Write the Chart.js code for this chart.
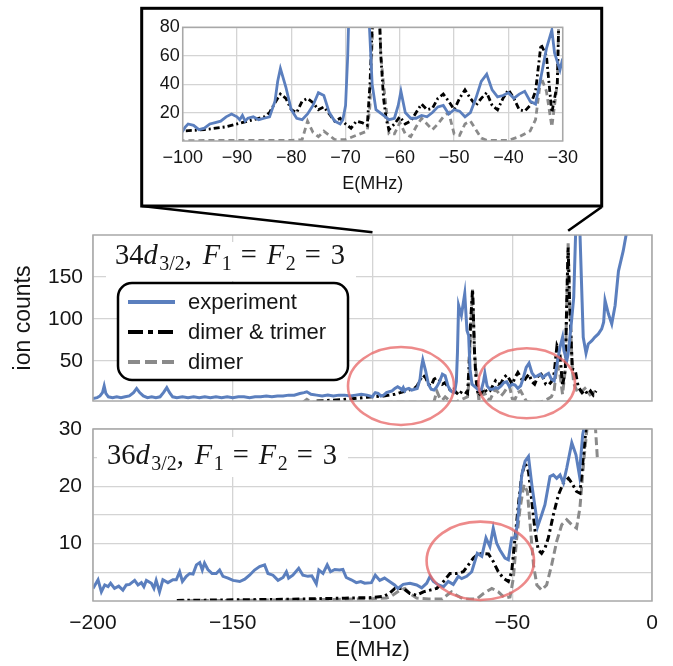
<!DOCTYPE html>
<html>
<head>
<meta charset="utf-8">
<script src="https://cdn.jsdelivr.net/npm/chart.js@4.4.0/dist/chart.umd.min.js"></script>
<style>
  body { margin: 0; background: #fff; }
  #page { position: relative; width: 673px; height: 666px; overflow: hidden; background: #fff; }
  .box { position: absolute; }
  #overlay { position: absolute; left: 0; top: 0; pointer-events: none; }
</style>
</head>
<body>
<div id="page">
  <div class="box" style="left:0;top:225px;width:673px;height:185px"><canvas id="mid"></canvas></div>
  <div class="box" style="left:0;top:419px;width:673px;height:247px"><canvas id="bot"></canvas></div>
  <div class="box" style="left:142px;top:8px;width:460px;height:198px"><canvas id="inset"></canvas></div>
  <canvas id="overlay" width="673" height="666"></canvas>
</div>
<script>
// tick positions
const xTicksMain = [-200, -150, -100, -50, 0];
const xTicksInset = [-100, -90, -80, -70, -60, -50, -40, -30];
const yTicks34 = [50, 100, 150];
const yTicks36 = [5, 10, 15, 20, 25, 30];
const yTicksInset = [20, 40, 60, 80];

// 34d_{3/2} : [E (MHz), ion counts]
const exp34 = [[-200,5],[-198.5,6],[-197.5,8],[-196.6,12],[-196,20],[-195.4,11],[-194.5,7],[-193,6],[-191.5,7],[-190,6],
  [-188.5,7],[-187,8],[-185.5,12],[-184.4,17],[-183.3,12],[-182,8],[-180.5,6],[-179,7],[-177.5,6],[-176,7],
  [-174.8,12],[-173.6,18],[-172.6,12],[-171.5,7],[-170,6],[-168,7],[-166,6],[-164,7],[-162,6],[-160,7],
  [-158,6],[-156,7],[-154,6],[-152,7],[-150,6],[-148,7],[-146,7],[-144,6],[-142,7],[-140,7],[-138,8],[-136,7],
  [-134,8],[-132,8],[-130,9],[-128,9],[-126,11],[-124.5,12],[-123.5,13],[-122,10],[-120,9],[-118,8],[-116,9],
  [-114,8],[-112,9],[-110,9],[-108,8],[-106,9],[-104,10],[-102,9],
  [-100,7],[-99.5,10],[-99,12],[-98,11],[-97,8],[-96,9],[-95,12],[-94,13],[-93,14],[-92,17],[-91,19],[-90,17],
  [-89.5,15],[-89,18],[-88.5,14],[-88,16],[-87,17],[-86,15],[-85,16],[-84,17],[-83,28],[-82.5,42],[-82,51],
  [-81,38],[-80,22],[-79,16],[-78,15],[-77,19],[-76,25],[-75,34],[-74,32],[-73,20],[-72,14],[-71,12],
  [-70.5,15],[-70,25],[-69.6,60],[-69.2,116],[-68.2,104],[-67,130],[-66.2,86],[-65.6,80],[-65.1,40],[-64.4,22],
  [-63,18],[-62,15],[-61,16],[-60.3,25],[-59.8,35],[-59,20],[-58,16],[-57,16],[-56,18],[-55,17],[-54,20],
  [-53,24],[-52,25],[-51,19],[-50,22],[-49,21],[-48,17],[-47,20],[-46,30],[-45,42],[-44,47],[-43,36],[-42,31],
  [-41,32],[-40,34],[-39,30],[-38,33],[-37,35],[-36,28],[-35,26],[-34,45],[-33,65],[-32,78],[-31.5,62],
  [-30.5,50],[-30,58],[-29,90],[-28,126],[-27.3,205],[-25.8,205],[-25,120],[-24.6,78],[-23.6,59],[-22.8,70],
  [-21.5,74],[-20.5,78],[-19.2,82],[-18,88],[-17.3,96],[-16.8,122],[-15.6,106],[-14.4,94],[-13.2,116],
  [-12,157],[-10.3,181],[-9,205]];
const dimTri34 = [[-120,2],[-117,2.5],[-114,3],[-111,3.5],[-108,4.5],[-105,5.5],[-102,6.5],[-100,7],[-96,8],
  [-92,10],[-88,14],[-85,17],[-84,20],[-83,27],[-82,33],[-81,30],[-80,22],[-79,20],[-78,28],[-77,30],[-76,27],
  [-75,22],[-74,24],[-73,19],[-72,14],[-71,16],[-70,12],[-69,9],[-68,14],[-67,13],[-66,11],[-65.5,40],[-65,90],
  [-64.2,135],[-63.5,60],[-63,30],[-62.5,15],[-62,8],[-61,12],[-60,17],[-59,12],[-58,14],[-57,20],[-56,26],
  [-55,22],[-54,23],[-53,30],[-52,33],[-51,28],[-50,22],[-49,30],[-48,36],[-47,30],[-46,25],[-45,30],[-44,34],
  [-43,25],[-42,22],[-41,30],[-40,36],[-39,30],[-38,22],[-37,21],[-36,25],[-35,35],[-34,68],[-33,60],[-32,20],
  [-31,40],[-30.5,120],[-30,185],[-29.5,120],[-28.5,40],[-27.5,39],[-26.4,19],[-25,12],[-24,15],[-23,10],
  [-22,14],[-21,9],[-20,14]];
const dim34 = [[-125,0],[-123.5,4],[-122,0.5],[-110,0.3],[-100,0.3],[-80,0.5],[-78,1],[-77,14],[-76,6],[-75,3],
  [-74,7],[-73,4],[-72,1],[-70,1],[-68,4],[-66,7],[-65.5,25],[-65,80],[-64.2,135],[-63.5,60],[-63,40],[-62,5],
  [-61,5],[-60,13],[-59,5],[-58,3],[-57,10],[-56,16],[-55,12],[-54,8],[-53,12],[-52,17],[-51,20],[-50,5],[-49,4],
  [-48,12],[-47,14],[-46,8],[-45,2],[-44,0.5],[-40,0.5],[-38,3],[-36,7],[-35,15],[-34,45],[-33,35],[-32,10],
  [-31,40],[-30.5,120],[-30,190],[-29.5,120],[-28.5,40],[-28,23],[-26.5,11.5],[-25.8,11.5],[-24,17],
  [-22.2,9.5],[-21,12],[-19.8,15.4]];

// 36d_{3/2}
const exp36 = [[-200,2.2],[-198.2,3.7],[-197,1.6],[-195.8,2.8],[-194.6,2.5],[-193.7,3.1],[-192.3,2.2],[-190.8,2.6],
  [-189.3,1.9],[-188.1,2.8],[-186.9,2.9],[-185.1,3.6],[-183.9,2.8],[-182.7,3.2],[-181.8,2.5],[-180.9,3.6],
  [-179.1,3.1],[-178.2,2.2],[-177.4,3.6],[-176.2,1.6],[-175,3.7],[-173.2,3.2],[-171.4,3.7],[-170.2,3.7],
  [-169,5.1],[-168,3.4],[-166.6,4.3],[-165.4,4.8],[-164.2,4.7],[-163,6.3],[-161.8,6.7],[-160.9,5.4],
  [-160.1,6.6],[-158.9,5.5],[-157.4,4.8],[-155.9,4.8],[-154.7,5.4],[-153.5,4.3],[-151.7,4],[-149.9,3.6],
  [-147.5,3.4],[-145.7,3.8],[-144,4.5],[-142.2,5.4],[-140.4,6],[-138.6,6.3],[-137.4,4.8],[-135.6,4.5],
  [-133.8,3.6],[-132,4.1],[-130.8,5.1],[-130,4],[-128.5,4.5],[-126.4,5.7],[-124.9,4.5],[-123.1,4.3],
  [-121.7,4.4],[-120.1,3],[-119.2,5.4],[-117.7,4.8],[-116.2,6.3],[-115,5.1],[-113.5,5.5],[-111.8,5.4],
  [-110.6,5.5],[-109.4,4.1],[-107.6,3.7],[-105.8,3.2],[-104.2,3.4],[-102.8,3.1],[-100.4,3.2],[-99,4.5],
  [-97.4,3.6],[-95.7,4],[-93.9,3.4],[-92.1,2.8],[-90.9,2.2],[-89,2.9],[-86.6,3.1],[-84.2,2.8],[-82.4,2.3],
  [-80.6,3.1],[-79.4,4.3],[-78.2,3.4],[-76.4,2.8],[-74.6,2.5],[-72.9,3.4],[-71.1,2.9],[-69.3,4.3],[-68.1,3.9],
  [-66.3,4.3],[-64.5,5.1],[-62.5,8.3],[-60.9,7.8],[-59.4,11],[-58,9.5],[-56.8,12.7],[-55.6,10.1],[-54.4,8.9],
  [-52.6,7.5],[-51.4,7.2],[-50.2,11],[-49,11],[-48.2,13.3],[-46.6,22],[-45.4,24.4],[-44.2,25.2],[-43,20.3],
  [-41.8,16.2],[-40.9,13],[-39.5,15],[-38.3,16.8],[-36.5,21.7],[-35.3,22],[-34.1,21.4],[-32.9,22],[-31.7,20.6],
  [-30.5,23.2],[-28.7,27.6],[-27.2,25.5],[-26,22],[-24.8,29],[-24,31],[-23,33]];
const dimTri36 = [[-170,0.1],[-160,0.15],[-150,0.2],[-140,0.25],[-130,0.3],[-120,0.4],[-110,0.5],[-100,0.6],
  [-96,0.8],[-94,1.3],[-92,2.2],[-89,2.2],[-86.6,1.3],[-84.2,1],[-81.8,1.6],[-79.4,1.9],[-77,2.2],[-74.6,3.4],
  [-72.3,4.8],[-69.9,4.8],[-67.5,5.1],[-65.7,6.3],[-63.9,7.5],[-62.1,8.2],[-60.3,8.3],[-58.5,8.2],[-56.8,6.9],
  [-55,5.1],[-53.2,4],[-51.4,3.4],[-50.2,5.1],[-49,11],[-47.8,16.8],[-46.6,22],[-45.4,24.1],[-44.2,22.6],
  [-43,17.4],[-41.8,12.1],[-40.7,8.9],[-39.5,8.3],[-38.3,9.2],[-37.1,11],[-35.3,15],[-33.5,18.5],[-31.7,20.6],
  [-29.9,21.4],[-28.7,20.6],[-27,19.1],[-25.8,18.8],[-24.6,25],[-23.6,30.2],[-22.5,38],[-21,45],[-20,45]];
const dim36 = [[-170,0.05],[-150,0.1],[-130,0.2],[-110,0.3],[-100,0.4],[-95,0.5],[-93.7,0.7],[-90.1,1.9],
  [-88.4,2.2],[-86.6,1.3],[-84.2,0.5],[-80,0.35],[-75,0.35],[-73.4,1],[-71.7,1.6],[-69.9,1],[-67.5,0.35],
  [-62.7,0.35],[-60.3,1.3],[-57.3,2.2],[-55,1.6],[-52.6,0.5],[-50.8,0.7],[-49.6,4],[-48.4,11],[-47.2,16.2],
  [-45.8,20.3],[-44.6,19.1],[-43.6,13.3],[-42.4,6.3],[-41.2,2.8],[-39.5,1.9],[-37.7,2.8],[-35.9,6.3],
  [-34.1,10.4],[-32.3,13.3],[-30.5,14.2],[-28.7,13.3],[-27,12.7],[-25.8,16.2],[-24.3,25],[-23.1,30.8],
  [-22,40],[-21,40],[-20.2,30],[-19.5,24.5]];

const SANS = '"Liberation Sans", Arial, sans-serif';
const SERIF = '"Liberation Serif", "Times New Roman", serif';
const BLUE = '#5b7fbe';
const GRAY = '#8a8a8a';
const GRID = '#d4d4d4';
const FRAME = '#a8a8a8';
const INK = '#151515';

const fmt = v => v < 0 ? '\u2212' + Math.abs(v) : String(v);
const toXY = pairs => pairs.map(p => ({ x: p[0], y: p[1] }));

function makeSets(exp, dimTri, dim, w, dashDT, dashD) {
  return [
    { label: 'experiment', data: toXY(exp), borderColor: BLUE, borderWidth: w, legendDash: [] },
    { label: 'dimer & trimer', data: toXY(dimTri), borderColor: '#000', borderWidth: w,
      borderDash: dashDT, legendDash: [15, 5, 5, 5] },
    { label: 'dimer', data: toXY(dim), borderColor: GRAY, borderWidth: w,
      borderDash: dashD, legendDash: [12, 5] },
  ];
}

function axis(min, max, ticks, opts) {
  return {
    type: 'linear', min, max,
    afterBuildTicks: s => { s.ticks = ticks.map(v => ({ value: v })); },
    grid: { color: GRID, lineWidth: 1.3, drawTicks: false },
    border: { display: false },
    ticks: {
      display: opts.show !== false,
      color: INK, padding: opts.pad || 0,
      font: { family: SANS, size: opts.size || 21 },
      callback: opts.cb || fmt,
    },
    title: opts.title ? {
      display: true, text: opts.title, color: INK, padding: opts.titlePad || 0,
      font: { family: SANS, size: opts.titleSize || 22 },
    } : { display: false },
    afterFit: s => {
      // fixed axis sizes, no extra room for overhanging labels
      s.paddingTop = s.paddingBottom = s.paddingLeft = s.paddingRight = 0;
      if (opts.width != null) s.width = opts.width;
      if (opts.height != null) s.height = opts.height;
    },
  };
}

// plot frame on all four sides
const frame = {
  id: 'frame',
  afterDraw(chart) {
    const a = chart.chartArea, ctx = chart.ctx;
    ctx.save();
    ctx.strokeStyle = FRAME;
    ctx.lineWidth = 1.5;
    ctx.strokeRect(a.left, a.top, a.right - a.left, a.bottom - a.top);
    ctx.restore();
  }
};

// "34d_{3/2}, F_1 = F_2 = 3" style label with white background
function panelLabel(n, x, y, bg) {
  const parts = [[n, 0], ['d', 1], ['3/2', 2], [',', 0, 11], ['F', 1], ['1', 2, 9], ['=', 0, 10], ['F', 1], ['2', 2, 9], ['=', 0, 10], ['3', 0]];
  const size = 28.5;
  return {
    id: 'panelLabel',
    afterDatasetsDraw(chart) {
      const ctx = chart.ctx;
      ctx.save();
      ctx.fillStyle = '#fff';
      ctx.fillRect(bg[0], bg[1], bg[2], bg[3]);
      ctx.fillStyle = INK;
      ctx.textBaseline = 'alphabetic';
      let cx = x;
      parts.forEach(([t, k, gap]) => {
        const s = k === 2 ? size * 0.7 : size;
        ctx.font = (k === 1 ? 'italic ' : '') + s + 'px ' + SERIF;
        ctx.fillText(t, cx, y + (k === 2 ? size * 0.2 : 0));
        cx += ctx.measureText(t).width + (k === 1 ? 1.5 : 0) + (gap || 0);
      });
      ctx.restore();
    }
  };
}

// rounded legend box drawn from the chart's own datasets
function legendBox(x, y, w, h) {
  return {
    id: 'legendBox',
    afterDatasetsDraw(chart) {
      const ctx = chart.ctx;
      ctx.save();
      ctx.beginPath();
      ctx.roundRect(x, y, w, h, 14);
      ctx.fillStyle = '#fff';
      ctx.fill();
      ctx.lineWidth = 2.5;
      ctx.strokeStyle = '#000';
      ctx.stroke();
      ctx.font = '22px ' + SANS;
      ctx.textBaseline = 'middle';
      chart.data.datasets.forEach((ds, i) => {
        const ry = y + 19 + i * 30;
        ctx.beginPath();
        ctx.setLineDash(ds.legendDash);
        ctx.lineWidth = 4;
        ctx.strokeStyle = ds.borderColor;
        ctx.moveTo(x + 10, ry);
        ctx.lineTo(x + 57, ry);
        ctx.stroke();
        ctx.setLineDash([]);
        ctx.fillStyle = INK;
        ctx.fillText(ds.label, x + 70, ry + 1);
      });
      ctx.restore();
    }
  };
}

const base = {
  animation: false,
  responsive: true,
  maintainAspectRatio: false,
  events: [],
  elements: { point: { radius: 0 }, line: { tension: 0 } },
  plugins: { legend: { display: false }, tooltip: { enabled: false } },
};

const midChart = new Chart(document.getElementById('mid'), {
  type: 'line',
  data: { datasets: makeSets(exp34, dimTri34, dim34, 3, [7, 3.5, 2.5, 3.5], [8, 4]) },
  options: {
    ...base,
    layout: { padding: { top: 10, right: 21, bottom: 0, left: 0 } },
    scales: {
      x: axis(-200, 0, xTicksMain, { show: false, height: 9 }),
      y: axis(2, 200, yTicks34, { pad: 10, width: 93, title: 'ion counts', titleSize: 23, titlePad: { top: 10, bottom: 0 } }),
    },
  },
  plugins: [frame, panelLabel('34', 115, 39, [106, 17, 250, 39]), legendBox(118, 58, 230, 97)],
});

const botChart = new Chart(document.getElementById('bot'), {
  type: 'line',
  data: { datasets: makeSets(exp36, dimTri36, dim36, 3, [7, 3.5, 2.5, 3.5], [8, 4]) },
  options: {
    ...base,
    layout: { padding: { top: 10, right: 21, bottom: 3, left: 0 } },
    scales: {
      x: axis(-200, 0, xTicksMain, { pad: 10, height: 62, title: 'E(MHz)', titleSize: 22 }),
      y: axis(0, 30, yTicks36, { pad: 11, width: 93, cb: v => (v % 10 === 0 ? String(v) : '') }),
    },
  },
  plugins: [frame, panelLabel('36', 107, 45, [97, 18, 251, 40])],
});

const insetChart = new Chart(document.getElementById('inset'), {
  type: 'line',
  data: { datasets: makeSets(exp34, dimTri34, dim34, 2.8, [6, 3, 2, 3], [6, 4]) },
  options: {
    ...base,
    layout: { padding: { top: 19.3, right: 39.3, bottom: 11.2, left: 0 } },
    scales: {
      x: axis(-100, -30, xTicksInset, { pad: 6.5, size: 18, height: 53.8, title: 'E(MHz)', titleSize: 18 }),
      y: axis(0, 80, yTicksInset, { pad: 3, size: 18, width: 40.7 }),
    },
  },
  plugins: [frame],
});

// zoom box, callout lines and highlight rings
const ov = document.getElementById('overlay').getContext('2d');
const midTop = 225 + midChart.chartArea.top;
const sx = midChart.scales.x;
ov.strokeStyle = '#000';
ov.lineWidth = 3;
ov.strokeRect(141.7, 8.3, 460, 197.7);
ov.lineWidth = 2.6;
ov.beginPath();
ov.moveTo(141.7, 206);
ov.lineTo(sx.getPixelForValue(xTicksInset[0]), midTop - 2.7);
ov.moveTo(601.7, 207);
ov.lineTo(sx.getPixelForValue(xTicksInset[xTicksInset.length - 1]), midTop - 4.3);
ov.stroke();

const rings = [[401, 386, 53, 39], [526.7, 383.3, 48.3, 35], [480.3, 560.8, 53.7, 39.2]];
ov.strokeStyle = 'rgba(232, 105, 105, 0.78)';
ov.lineWidth = 2.6;
rings.forEach(([cx, cy, rx, ry]) => {
  ov.beginPath();
  ov.ellipse(cx, cy, rx, ry, 0, 0, Math.PI * 2);
  ov.stroke();
});
</script>
</body>
</html>
